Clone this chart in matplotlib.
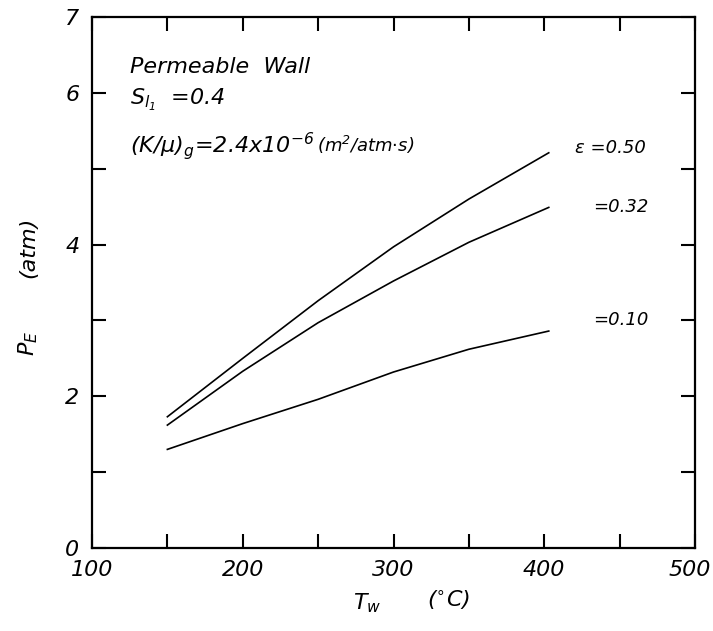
import matplotlib
matplotlib.use("Agg")
import matplotlib.pyplot as plt
from matplotlib.ticker import FixedLocator, FixedFormatter
from matplotlib.transforms import ScaledTranslation

plt.rcParams['font.family'] = ['DejaVu Sans']
plt.rcParams['font.style'] = 'italic'
plt.rcParams['mathtext.fontset'] = 'custom'
plt.rcParams['mathtext.rm'] = 'DejaVu Sans:italic'
plt.rcParams['mathtext.it'] = 'DejaVu Sans:italic'
plt.rcParams['mathtext.default'] = 'it'

# Data
T_w = [150, 200, 250, 300, 350, 403]
P_eps050 = [1.73, 2.50, 3.26, 3.97, 4.60, 5.21]
P_eps032 = [1.62, 2.33, 2.97, 3.52, 4.03, 4.49]
P_eps010 = [1.30, 1.64, 1.96, 2.32, 2.62, 2.86]
curve_labels = ["\u03b5 =0.50", "=0.32", "=0.10"]

x_major = [100, 200, 300, 400, 500]
x_minor = [150, 250, 350, 450]
y_ticks = [0, 1, 2, 3, 4, 5, 6, 7]
y_labels = ["0", "", "2", "", "4", "", "6", "7"]

fig = plt.figure(figsize=(7.13, 6.31), dpi=100)
ax = fig.add_axes([92/713, 1-548/631, (695-92)/713, (548-17)/631])

for P in (P_eps050, P_eps032, P_eps010):
    ax.plot(T_w, P, color='black', lw=1.2)

ax.set_xlim(100, 500)
ax.set_ylim(0, 7)

ax.xaxis.set_major_locator(FixedLocator(x_major))
ax.xaxis.set_minor_locator(FixedLocator(x_minor))
ax.yaxis.set_major_locator(FixedLocator(y_ticks))
ax.yaxis.set_major_formatter(FixedFormatter(y_labels))

ax.tick_params(axis='both', which='both', direction='in', top=True, right=True,
               length=10, width=1.5, labelsize=16)
ax.tick_params(axis='x', pad=9)
ax.tick_params(axis='y', pad=9)
for s in ax.spines.values():
    s.set_linewidth(1.6)

# nudge last x tick label slightly left so it stays on the canvas
fig.canvas.draw()
lbl = ax.xaxis.get_majorticklabels()[-1]
lbl.set_transform(lbl.get_transform() + ScaledTranslation(-5/100, 0, fig.dpi_scale_trans))

ax.text(0.063, 0.8945, "Permeable  Wall", transform=ax.transAxes, fontsize=16,
        va='baseline', ha='left')
ax.text(0.063, 0.834, r"$S_{l_1}$  =0.4", transform=ax.transAxes, fontsize=16,
        va='baseline', ha='left')
t1 = ax.text(0.063, 0.744, r"$(K/\mu)_g$=2.4x$10^{-6}$", transform=ax.transAxes,
             fontsize=16, va='baseline', ha='left')
ax.annotate(r"(m$^2$/atm$\cdot$s)", xy=(1, 0.55), xycoords=t1, xytext=(2, 0),
            textcoords='offset points', fontsize=13, va='center', ha='left')

ax.text(420.4, 5.21, curve_labels[0], fontsize=13, va='baseline', ha='left')
ax.text(432.3, 4.43, curve_labels[1], fontsize=13, va='baseline', ha='left')
ax.text(432.3, 2.94, curve_labels[2], fontsize=13, va='baseline', ha='left')

fig.text(367/713, 1-603/631, r"$T_w$", fontsize=16, ha='center', va='center')
fig.text(449/713, 1-600/631, r"($^{\circ}$C)", fontsize=16, ha='center', va='center')
fig.text(28/713, 1-343/631, r"$P_E$", fontsize=16, ha='center', va='center', rotation=90)
fig.text(28/713, 1-247/631, "(atm)", fontsize=16, ha='center', va='center', rotation=90)

fig.savefig("out.png", dpi=100)
